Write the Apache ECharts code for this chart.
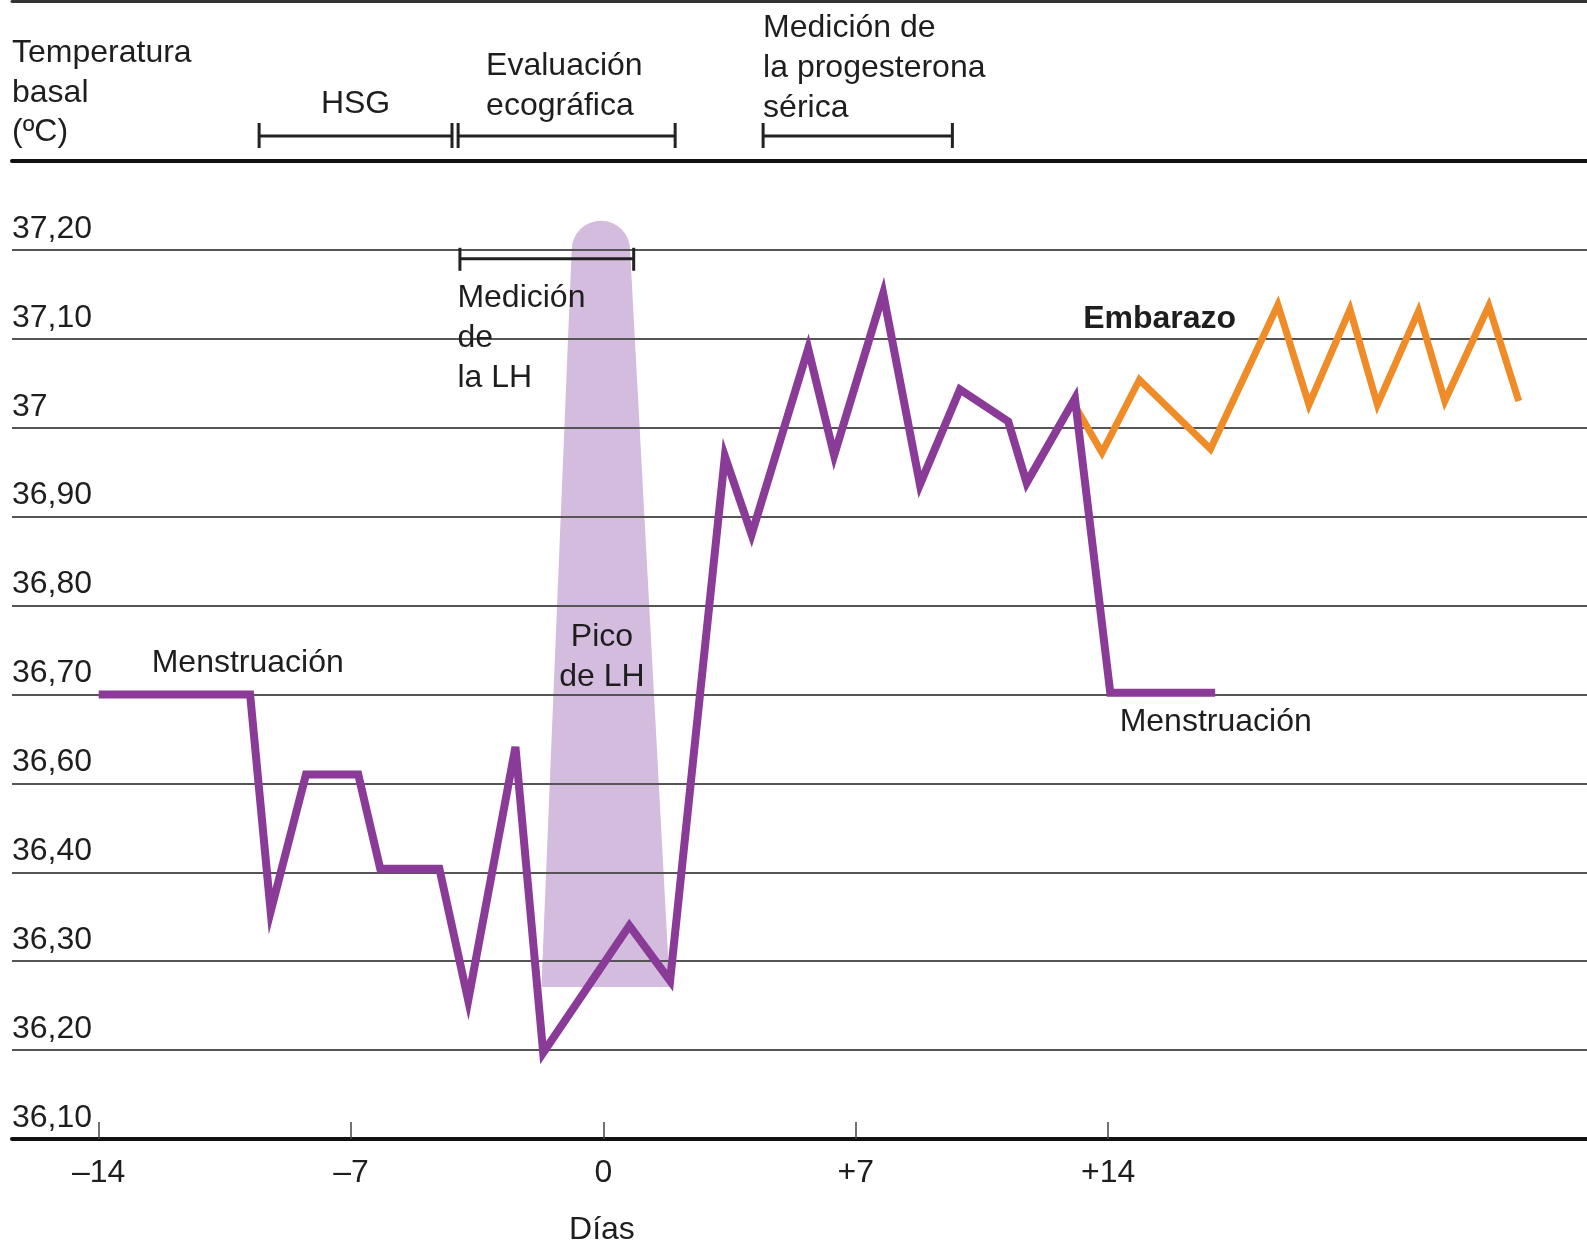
<!DOCTYPE html>
<html>
<head>
<meta charset="utf-8">
<script src="https://cdn.jsdelivr.net/npm/echarts@6/dist/echarts.min.js"></script>
<style>
  html, body { margin: 0; padding: 0; background: #fff; }
  #chart { width: 1587px; height: 1244px; }
</style>
</head>
<body>
<div id="chart"></div>
<script>
// eje vertical: las marcas van a distancias iguales aunque falte 36,50
const yTickTemps = [36.1, 36.2, 36.3, 36.4, 36.6, 36.7, 36.8, 36.9, 37.0, 37.1, 37.2];
const yTickLabels = ['36,10', '36,20', '36,30', '36,40', '36,60', '36,70', '36,80', '36,90', '37', '37,10', '37,20'];
const xTickDays = [-14, -7, 0, 7, 14];
const xTickLabels = ['–14', '–7', '0', '+7', '+14'];

// temperatura basal del ciclo (días respecto al pico de LH)
const cycleDays = [-14, -9.8, -9.23, -8.25, -6.8, -6.19, -4.55, -3.75, -2.44, -1.67, 0.72, 1.85,
  3.37, 4.11, 5.68, 6.4, 7.76, 8.78, 9.89, 11.23, 11.74, 13.08, 14.06, 16.97];
const cycleTemps = [36.7, 36.7, 36.356, 36.61, 36.61, 36.408, 36.408, 36.256, 36.641, 36.197, 36.34, 36.278,
  36.968, 36.88, 37.089, 36.969, 37.151, 36.936, 37.043, 37.007, 36.938, 37.033, 36.702, 36.702];

// embarazo
const pregDays = [13.03, 13.83, 14.87, 16.84, 18.71, 19.57, 20.71, 21.47, 22.61, 23.34, 24.56, 25.39];
const pregTemps = [37.028, 36.972, 37.054, 36.976, 37.138, 37.026, 37.133, 37.026, 37.131, 37.03, 37.137, 37.03];

// pico de LH: base izq, base der, cima izq, cima der / temp base, temp cima
const lhPeakDays = [-1.72, 1.84, -0.88, 0.74];
const lhPeakTemps = [36.271, 37.2];

// pruebas
const testNames = ['HSG', 'Evaluación\necográfica', 'Medición de\nla progesterona\nsérica'];
const testStart = [-9.55, -4.03, 4.43];
const testEnd = [-4.2, 1.99, 9.68];
const lhTestSpan = [-3.98, 0.84];
const lhTestTemp = 37.19;

// rótulos
const noteTexts = ['Menstruación', 'Pico\nde LH', 'Medición\nde\nla LH', 'Embarazo', 'Menstruación', 'Días'];
const noteDays = [-12.53, -0.04, -4.05, 13.31, 14.32, -0.04];
const noteTemps = [36.738, 36.745, 37.104, 37.125, 36.672, 36.001];
const noteAlign = ['left', 'center', 'left', 'left', 'left', 'center'];
const noteBold = [false, false, false, true, false, false];

const FONT = '"Liberation Sans", Arial, Helvetica, sans-serif';
const TEXT = '#1e1e1e';
const X_MIN = -16.405;
const X_MAX = 27.284;

// temperatura -> posición en el eje (tramos iguales entre marcas)
function toPos(t) {
  const T = yTickTemps;
  let i = 0;
  while (i < T.length - 2 && t > T[i + 1]) i++;
  return i + (t - T[i]) / (T[i + 1] - T[i]);
}

const zip = (xs, ys) => xs.map((x, i) => [x, toPos(ys[i])]);

const chart = echarts.init(document.getElementById('chart'));

// el pico de LH va en la capa 0; rejilla, curvas y rótulos en la capa 1 encima
const option = {
  animation: false,
  backgroundColor: '#fff',
  textStyle: { fontFamily: FONT },
  grid: [
    { left: 12, right: 0, top: 161, bottom: 105 },
    { left: 12, right: 0, top: 1, height: 160 }
  ],
  xAxis: [
    {
      type: 'value', gridIndex: 0, min: X_MIN, max: X_MAX, zlevel: 1, z: 3,
      axisLine: { show: true, onZero: false, lineStyle: { color: '#111', width: 4 } },
      axisTick: { show: true, inside: true, length: 17, customValues: xTickDays, lineStyle: { color: '#444', width: 1.5 } },
      axisLabel: {
        customValues: xTickDays, margin: 18, fontSize: 32, color: TEXT, fontFamily: FONT,
        formatter: (v) => xTickLabels[xTickDays.indexOf(v)] || ''
      },
      splitLine: { show: false }
    },
    {
      type: 'value', gridIndex: 0, position: 'top', min: X_MIN, max: X_MAX, zlevel: 1, z: 3,
      axisLine: { show: true, onZero: false, lineStyle: { color: '#111', width: 4 } },
      axisTick: { show: false }, axisLabel: { show: false }, splitLine: { show: false }
    },
    {
      type: 'value', gridIndex: 1, position: 'top', min: X_MIN, max: X_MAX, zlevel: 1,
      axisLine: { show: true, onZero: false, lineStyle: { color: '#333', width: 3 } },
      axisTick: { show: false }, axisLabel: { show: false }, splitLine: { show: false }
    }
  ],
  yAxis: [
    {
      type: 'value', gridIndex: 0, min: 0, max: 11, interval: 1, zlevel: 1, z: 0,
      name: 'Temperatura\nbasal\n(ºC)', nameLocation: 'end', nameGap: 9,
      nameTextStyle: { align: 'left', verticalAlign: 'bottom', fontSize: 32, lineHeight: 39.5, color: TEXT, fontFamily: FONT },
      axisLine: { show: false, onZero: false }, axisTick: { show: false },
      axisLabel: {
        inside: true, margin: 0, fontSize: 32, color: TEXT, fontFamily: FONT,
        verticalAlign: 'bottom', padding: [0, 0, 5, 0],
        formatter: (v) => yTickLabels[v] || ''
      },
      splitLine: { show: true, lineStyle: { color: '#555', width: 2 } }
    },
    { type: 'value', gridIndex: 1, min: 0, max: 1, show: false }
  ],
  series: [
    {
      // pico de LH
      type: 'custom', xAxisIndex: 0, yAxisIndex: 0, zlevel: 0, z: 1,
      data: [[...lhPeakDays, toPos(lhPeakTemps[0]), toPos(lhPeakTemps[1])]],
      encode: { x: [0, 1, 2, 3], y: [4, 5] },
      renderItem: (params, api) => {
        const bl = api.coord([api.value(0), api.value(4)]);
        const br = api.coord([api.value(1), api.value(4)]);
        const tl = api.coord([api.value(2), api.value(5)]);
        const tr = api.coord([api.value(3), api.value(5)]);
        const r = (tr[0] - tl[0]) / 2;
        const path = `M${bl[0]},${bl[1]} L${br[0]},${br[1]} L${tr[0]},${tr[1]} ` +
          `A${r},${r} 0 0 0 ${tl[0]},${tl[1]} Z`;
        return {
          type: 'path',
          shape: { pathData: path },
          style: { fill: '#d3bcde' }
        };
      }
    },
    {
      name: 'Ciclo', type: 'line', xAxisIndex: 0, yAxisIndex: 0, zlevel: 1, z: 4,
      data: zip(cycleDays, cycleTemps), symbol: 'none',
      lineStyle: { color: '#8a3a97', width: 8, join: 'miter', miterLimit: 6 }
    },
    {
      name: 'Embarazo', type: 'line', xAxisIndex: 0, yAxisIndex: 0, zlevel: 1, z: 3,
      data: zip(pregDays, pregTemps), symbol: 'none',
      lineStyle: { color: '#ef8c28', width: 7, join: 'miter', miterLimit: 6 }
    },
    {
      // medición de la LH
      type: 'custom', xAxisIndex: 0, yAxisIndex: 0, zlevel: 1, z: 5,
      data: [[lhTestSpan[0], lhTestSpan[1], toPos(lhTestTemp)]],
      encode: { x: [0, 1], y: 2 },
      renderItem: (params, api) => {
        const a = api.coord([api.value(0), api.value(2)]);
        const b = api.coord([api.value(1), api.value(2)]);
        const s = { stroke: '#222', lineWidth: 3 };
        return {
          type: 'group',
          children: [
            { type: 'line', shape: { x1: a[0], y1: a[1], x2: b[0], y2: b[1] }, style: s },
            { type: 'line', shape: { x1: a[0], y1: a[1] - 11, x2: a[0], y2: a[1] + 12 }, style: s },
            { type: 'line', shape: { x1: b[0], y1: b[1] - 11, x2: b[0], y2: b[1] + 12 }, style: s }
          ]
        };
      }
    },
    {
      // pruebas de la cabecera
      type: 'custom', xAxisIndex: 2, yAxisIndex: 1, zlevel: 1, z: 5,
      data: testStart.map((s, i) => [s, testEnd[i]]),
      encode: { x: [0, 1] },
      renderItem: (params, api) => {
        const i = params.dataIndex;
        const a = api.coord([api.value(0), 0]);
        const b = api.coord([api.value(1), 0]);
        const y = a[1] - 25;
        const s = { stroke: '#222', lineWidth: 3 };
        let tx = a[0], align = 'left', ty = y - 8;
        if (i === 0) { tx = (a[0] + b[0]) / 2; align = 'center'; ty = y - 12; }
        if (i === 1) { tx = a[0] + 28; ty = y - 10; }
        return {
          type: 'group',
          children: [
            { type: 'line', shape: { x1: a[0], y1: y, x2: b[0], y2: y }, style: s },
            { type: 'line', shape: { x1: a[0], y1: y - 13, x2: a[0], y2: y + 12 }, style: s },
            { type: 'line', shape: { x1: b[0], y1: y - 13, x2: b[0], y2: y + 12 }, style: s },
            {
              type: 'text', x: tx, y: ty,
              style: {
                text: testNames[i], fill: TEXT, fontSize: 32, fontFamily: FONT,
                align, verticalAlign: 'bottom', lineHeight: 40
              }
            }
          ]
        };
      }
    },
    {
      // rótulos
      type: 'custom', xAxisIndex: 0, yAxisIndex: 0, zlevel: 1, z: 6, clip: false,
      data: noteDays.map((d, i) => [d, toPos(noteTemps[i])]),
      encode: { x: 0, y: 1 },
      renderItem: (params, api) => {
        const i = params.dataIndex;
        const p = api.coord([api.value(0), api.value(1)]);
        return {
          type: 'text', x: p[0], y: p[1] + 3,
          style: {
            text: noteTexts[i], fill: TEXT, fontSize: 32, fontFamily: FONT,
            fontWeight: noteBold[i] ? 'bold' : 'normal',
            align: noteAlign[i], verticalAlign: 'middle', lineHeight: 40
          }
        };
      }
    }
  ]
};

chart.setOption(option);
</script>
</body>
</html>
